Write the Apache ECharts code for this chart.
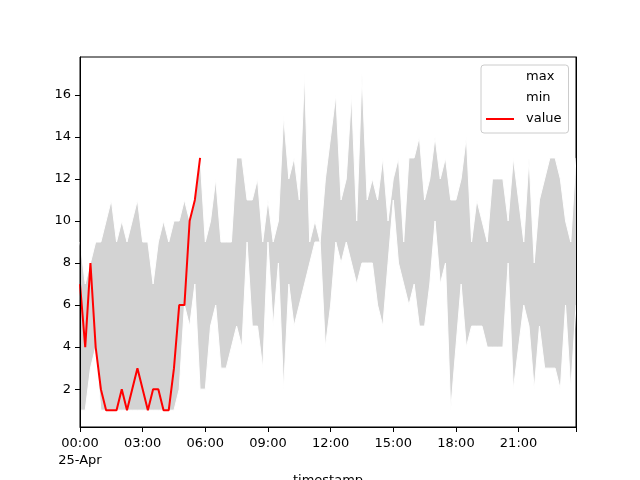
<!DOCTYPE html>
<html><head><meta charset="utf-8">
<script src="https://cdn.jsdelivr.net/npm/echarts@6/dist/echarts.min.js"></script>
<style>html,body{margin:0;padding:0;background:#fff}#c{width:640px;height:480px}</style>
</head><body><div id="c"></div>
<script>
// 15-minute samples on 25-Apr, 00:00 .. 23:45
const stepMinutes = 15;
const sampleCount = 96;
const maxVals = [9,7,8,9,9,10,11,9,10,9,10,11,9,9,7,9,10,9,10,10,11,10,11,13,
  9,10,12,9,9,9,13,13,11,11,12,9,11,9,10,15,12,13,11,17,9,10,9,12,
  14,16,11,12,16,10,17,11,12,11,13,10,12,13,9,13,13,14,11,12,14,12,13,11,
  11,12,14,9,11,10,9,12,12,12,10,13,11,9,13,8,11,12,13,13,12,10,9,13];
const minVals = [1,1,3,4,1,1,1,1,1,1,1,1,1,1,1,1,1,1,1,2,6,5,7,2,
  2,5,6,3,3,4,5,4,9,5,5,3,9,5,8,2,7,5,6,7,8,9,9,4,
  6,9,8,9,8,7,8,8,8,6,5,8,11,8,7,6,7,5,5,7,10,7,8,1,
  4,7,4,5,5,5,4,4,4,4,8,2,4,6,5,2,5,3,3,3,2,6,2,6];
const valueVals = [7,4,8,4,2,1,1,1,2,1,2,3,2,1,2,2,1,1,3,6,6,10,11,13];
const yTicks = [2,4,6,8,10,12,14,16];
const labelEvery = 12; // every 3 hours
const firstDateLabel = '25-Apr';

const pad = n => (n < 10 ? '0' : '') + n;
const categories = [];
for (let i = 0; i < sampleCount; i++) {
  const t = i * stepMinutes;
  categories.push(pad(Math.floor(t / 60)) + ':' + pad(t % 60));
}
const bandVals = maxVals.map((v, i) => v - minVals[i]);
const font = 'DejaVu Sans';

const chart = echarts.init(document.getElementById('c'), null, {renderer: 'canvas'});
chart.setOption({
  animation: false,
  backgroundColor: '#fff',
  grid: {left: 80, right: 64, top: 57, bottom: 53, outerBoundsMode: 'none', containLabel: false,
         show: true, borderColor: '#000', borderWidth: 1, backgroundColor: 'transparent'},
  xAxis: {
    type: 'category', data: categories, boundaryGap: false,
    name: 'timestamp', nameLocation: 'middle', nameGap: 43,
    nameTextStyle: {color: '#000', fontSize: 13, fontFamily: font},
    axisLine: {show: true, lineStyle: {color: '#000', width: 1}},
    axisTick: {show: true, length: 5, interval: (i) => i % labelEvery === 0 || i === sampleCount - 1, lineStyle: {color: '#000'}},
    axisLabel: {interval: (i) => i % labelEvery === 0, formatter: (v, i) => (i === 0 ? v + '\n' + firstDateLabel : v),
                margin: 8, color: '#000', fontSize: 13, fontFamily: font, lineHeight: 17},
    splitLine: {show: false},
    z: 10
  },
  yAxis: [{
    type: 'value', min: 0.2, max: 17.8,
    axisLine: {show: true, lineStyle: {color: '#000', width: 1}},
    axisTick: {show: true, length: 5, customValues: yTicks, lineStyle: {color: '#000'}},
    axisLabel: {customValues: yTicks, margin: 9, color: '#000', fontSize: 13, fontFamily: font},
    splitLine: {show: false},
    z: 10
  }, {
    type: 'value', position: 'right', min: 0, max: 1,
    axisLine: {show: true, lineStyle: {color: '#000', width: 1}},
    axisTick: {show: false}, axisLabel: {show: false}, splitLine: {show: false},
    z: 10
  }],
  legend: {
    data: [{name: 'max', icon: 'rect'}, {name: 'min', icon: 'rect'}, {name: 'value', icon: 'rect'}],
    orient: 'vertical', left: 481, top: 65,
    itemWidth: 28, itemHeight: 2, itemGap: 7,
    padding: [5, 7, 7, 5],
    backgroundColor: 'rgba(255,255,255,0.85)', borderColor: '#cccccc', borderWidth: 1, borderRadius: 3,
    textStyle: {fontFamily: font, fontSize: 13, color: '#000', lineHeight: 14, padding: [0, 0, 0, 7]},
    selectedMode: false, z: 20
  },
  series: [
    {name: 'minBase', type: 'line', stack: 'band', data: minVals, symbol: 'none',
     lineStyle: {opacity: 0, width: 0}, silent: true, z: 1},
    {name: 'band', type: 'line', stack: 'band', data: bandVals, symbol: 'none',
     lineStyle: {opacity: 0, width: 0}, areaStyle: {color: '#d3d3d3', opacity: 1}, silent: true, z: 1},
    {name: 'max', type: 'line', data: maxVals, symbol: 'none',
     lineStyle: {color: '#ffffff', width: 1}, itemStyle: {color: '#ffffff'}, z: 2},
    {name: 'min', type: 'line', data: minVals, symbol: 'none',
     lineStyle: {color: '#ffffff', width: 1}, itemStyle: {color: '#ffffff'}, z: 2},
    {name: 'value', type: 'line', data: valueVals, symbol: 'none',
     lineStyle: {color: '#ff0000', width: 2}, itemStyle: {color: '#ff0000'}, z: 3}
  ]
});
</script></body></html>
